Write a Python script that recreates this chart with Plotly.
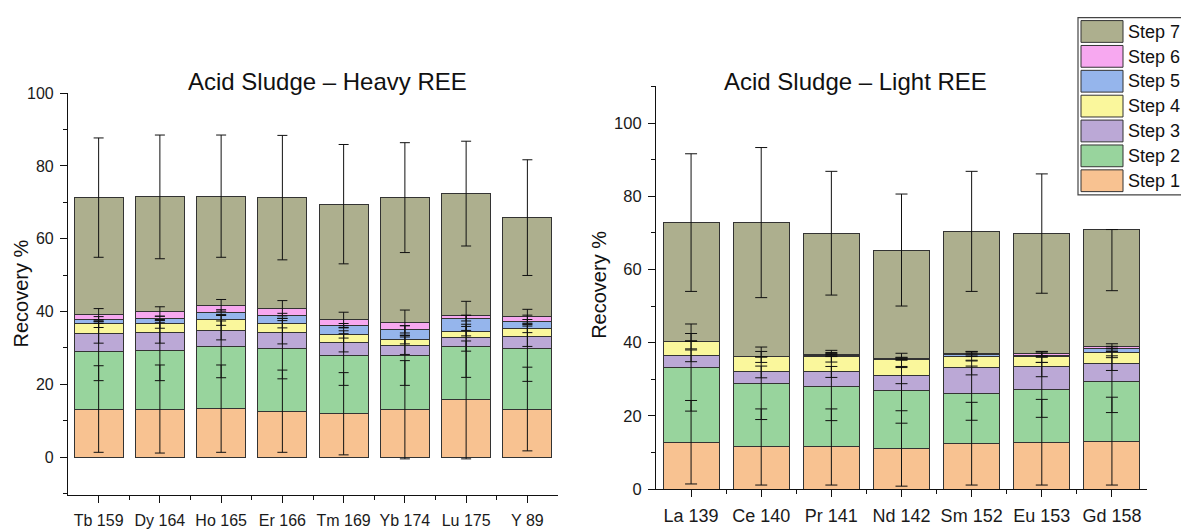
import numpy as np
import plotly.graph_objects as go

W, H = 1181, 531

# ---------------- data ----------------
steps = ["Step 1", "Step 2", "Step 3", "Step 4", "Step 5", "Step 6", "Step 7"]
colors = ["#F8C291", "#98D49D", "#BBA8D6", "#FAF79C", "#95B5EC", "#F7A8F0", "#ADAF8E"]

heavy_labels = ["Tb 159", "Dy 164", "Ho 165", "Er 166", "Tm 169", "Yb 174", "Lu 175", "Y 89"]
heavy_s1 = [13.2, 13.2, 13.3, 12.6, 11.9, 13.0, 15.7, 13.2]
heavy_s2 = [15.9, 16.1, 17.1, 17.2, 16.0, 14.9, 14.7, 16.7]
heavy_s3 = [4.9, 4.8, 4.4, 4.5, 3.5, 2.7, 2.4, 3.3]
heavy_s4 = [2.6, 2.5, 2.9, 2.5, 2.3, 1.7, 1.8, 2.1]
heavy_s5 = [1.3, 1.5, 2.0, 2.0, 2.4, 2.8, 3.6, 1.9]
heavy_s6 = [1.4, 1.9, 2.0, 2.1, 1.6, 1.8, 0.6, 1.5]
heavy_s7 = [32.0, 31.5, 30.0, 30.4, 31.8, 34.4, 33.6, 27.1]
heavy_e1 = [11.9, 12.1, 12.0, 11.3, 11.3, 13.5, 16.2, 11.5]
heavy_e2 = [8.1, 8.3, 8.6, 8.3, 8.2, 8.2, 8.5, 9.1]
heavy_e3 = [2.7, 2.8, 2.6, 3.2, 2.5, 2.4, 3.7, 2.8]
heavy_e4 = [1.0, 1.2, 1.5, 1.3, 1.0, 1.2, 1.3, 1.1]
heavy_e5 = [0.7, 0.6, 0.8, 0.7, 0.6, 1.0, 0.8, 0.6]
heavy_e6 = [1.5, 1.3, 1.6, 2.1, 2.1, 3.5, 4.0, 1.9]
heavy_e7 = [16.4, 17.0, 16.8, 17.1, 16.4, 15.1, 14.4, 15.9]

light_labels = ["La 139", "Ce 140", "Pr 141", "Nd 142", "Sm 152", "Eu 153", "Gd 158"]
light_s1 = [12.8, 11.5, 11.5, 11.1, 12.4, 12.8, 13.1]
light_s2 = [20.4, 17.4, 16.5, 15.8, 13.8, 14.3, 16.2]
light_s3 = [3.2, 3.1, 4.0, 4.1, 7.0, 6.4, 5.1]
light_s4 = [4.0, 4.1, 4.3, 4.3, 3.1, 2.6, 2.8]
light_s5 = [0.0, 0.0, 0.2, 0.2, 0.4, 0.5, 1.1]
light_s6 = [0.0, 0.1, 0.2, 0.2, 0.4, 0.4, 0.7]
light_s7 = [32.4, 36.6, 33.2, 29.6, 33.3, 32.8, 31.9]
light_e1 = [11.4, 10.4, 10.4, 10.3, 11.3, 11.7, 12.0]
light_e2 = [11.9, 9.9, 9.3, 8.9, 7.4, 7.5, 8.4]
light_e3 = [1.6, 1.6, 1.5, 2.2, 2.0, 2.8, 2.0]
light_e4 = [2.1, 1.5, 1.6, 1.8, 1.3, 1.5, 1.3]
light_e5 = [0.0, 0.0, 0.3, 0.3, 0.5, 0.6, 0.7]
light_e6 = [0.0, 0.0, 0.3, 0.3, 0.5, 0.6, 0.7]
light_e7_plus = [18.8, 20.5, 16.9, 15.3, 16.4, 16.3, 0.0]
light_e7_minus = [18.8, 20.5, 16.9, 15.3, 16.4, 16.3, 16.7]

heavy_vals = [heavy_s1, heavy_s2, heavy_s3, heavy_s4, heavy_s5, heavy_s6, heavy_s7]
heavy_errs = [heavy_e1, heavy_e2, heavy_e3, heavy_e4, heavy_e5, heavy_e6, heavy_e7]
light_vals = [light_s1, light_s2, light_s3, light_s4, light_s5, light_s6, light_s7]
light_errs_p = [light_e1, light_e2, light_e3, light_e4, light_e5, light_e6, light_e7_plus]
light_errs_m = [light_e1, light_e2, light_e3, light_e4, light_e5, light_e6, light_e7_minus]

FONT = "Liberation Sans, Arial, sans-serif"
TXT = "#1a1a1a"

def px(x):
    return x / W

def py(y):
    return 1 - y / H

fig = go.Figure()

def add_panel(vals, errs_p, errs_m, labels, xa, ya, cap):
    xs = list(range(len(labels)))
    cum = np.zeros(len(labels))
    for k, (v, c) in enumerate(zip(vals, colors)):
        fig.add_trace(go.Bar(
            x=xs, y=v, name=steps[k], marker=dict(color=c, line=dict(color="#333333", width=1)),
            width=0.8, xaxis=xa, yaxis=ya, showlegend=False))
    for k, v in enumerate(vals):
        cum = cum + np.array(v)
        fig.add_trace(go.Scatter(
            x=xs, y=cum, mode="markers", marker=dict(size=1, color="rgba(0,0,0,0)"),
            error_y=dict(type="data", symmetric=False, array=errs_p[k], arrayminus=errs_m[k],
                         color="#111111", thickness=1, width=cap),
            xaxis=xa, yaxis=ya, showlegend=False, hoverinfo="skip"))

add_panel(heavy_vals, heavy_errs, heavy_errs, heavy_labels, "x", "y", 5)
add_panel(light_vals, light_errs_p, light_errs_m, light_labels, "x2", "y2", 6)

axis_common = dict(showgrid=False, zeroline=False, showline=True, linecolor="#111111", linewidth=1.2,
                   ticks="outside", ticklen=7, tickwidth=1.2, tickcolor="#111111")

fig.update_layout(
    width=W, height=H, margin=dict(l=0, r=0, t=0, b=0),
    paper_bgcolor="white", plot_bgcolor="white", barmode="stack",
    font=dict(family=FONT, color=TXT),
    showlegend=False,
    xaxis=dict(domain=[px(68), px(558)], range=[-0.5, len(heavy_labels) - 0.5],
               tickvals=list(range(len(heavy_labels))), ticktext=heavy_labels,
               tickfont=dict(size=16, color=TXT), ticklabelstandoff=4,
               minor=dict(tickvals=[i + 0.5 for i in range(len(heavy_labels) - 1)], ticks="outside",
                          ticklen=4, tickcolor="#111111"),
               anchor="y", **axis_common),
    yaxis=dict(domain=[py(503), py(88)], range=[-10.4, 100], tick0=0, dtick=20,
               tickfont=dict(size=16, color=TXT), ticklabelstandoff=3,
               minor=dict(dtick=10, tick0=0, ticks="outside", ticklen=4, tickcolor="#111111"),
               anchor="x", **axis_common),
    xaxis2=dict(domain=[px(656), px(1147)], range=[-0.5, len(light_labels) - 0.5],
                tickvals=list(range(len(light_labels))), ticktext=light_labels,
                tickfont=dict(size=18, color=TXT), ticklabelstandoff=3,
                minor=dict(tickvals=[i + 0.5 for i in range(len(light_labels) - 1)], ticks="outside",
                           ticklen=4, tickcolor="#111111"),
                anchor="y2", **axis_common),
    yaxis2=dict(domain=[py(497), py(81)], range=[0, 110], tick0=0, dtick=20,
                tickfont=dict(size=16.5, color=TXT), ticklabelstandoff=3,
                minor=dict(dtick=10, tick0=0, ticks="outside", ticklen=4, tickcolor="#111111"),
                anchor="x2", **axis_common),
)

ann = []
ann.append(dict(text="Acid Sludge \u2013 Heavy REE", x=px(327), y=py(76), xref="paper", yref="paper",
                showarrow=False, font=dict(size=24, color="#111111"), xanchor="center", yanchor="middle"))
ann.append(dict(text="Acid Sludge \u2013 Light REE", x=px(855), y=py(76), xref="paper", yref="paper",
                showarrow=False, font=dict(size=24, color="#111111"), xanchor="center", yanchor="middle"))
ann.append(dict(text="Recovery %", x=px(21), y=py(295), xref="paper", yref="paper", textangle=-90,
                showarrow=False, font=dict(size=20, color="#111111"), xanchor="center", yanchor="middle"))
ann.append(dict(text="Recovery %", x=px(599), y=py(286), xref="paper", yref="paper", textangle=-90,
                showarrow=False, font=dict(size=20, color="#111111"), xanchor="center", yanchor="middle"))

shapes = []
# legend box
shapes.append(dict(type="rect", xref="paper", yref="paper", x0=px(1078), x1=px(1186), y0=py(193), y1=py(10),
                   line=dict(color="#444444", width=1.2), fillcolor="white", layer="above"))
for i, k in enumerate(range(6, -1, -1)):
    top = 13 + i * 25.7
    shapes.append(dict(type="rect", xref="paper", yref="paper", x0=px(1081), x1=px(1123),
                       y0=py(top + 22.5), y1=py(top), fillcolor=colors[k],
                       line=dict(color="#333333", width=1), layer="above"))
    ann.append(dict(text=steps[k], x=px(1126), y=py(top + 11.5), xref="paper", yref="paper",
                    showarrow=False, font=dict(size=18, color="#111111"), xanchor="left", yanchor="middle"))

fig.update_layout(annotations=ann, shapes=shapes)
fig.write_html("out.html")
